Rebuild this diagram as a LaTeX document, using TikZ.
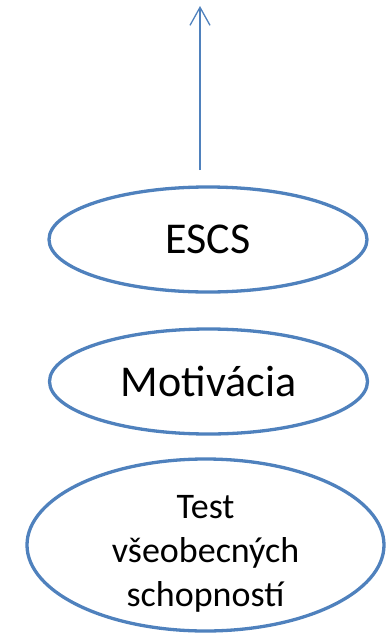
\documentclass[tikz,border=0pt]{standalone}
\usepackage{fontspec}
\setmainfont{Carlito}
\usetikzlibrary{shapes.geometric,arrows.meta}
\definecolor{ovblue}{RGB}{79,129,189}
\begin{document}
\begin{tikzpicture}[x=1pt,y=-1pt,
  oval/.style={ellipse,draw=ovblue,line width=3.3pt,inner sep=0pt,align=center,text=black},
  bigtxt/.style={font=\fontsize{44}{53}\selectfont},
  smalltxt/.style={font=\fontsize{36}{44}\selectfont,align=center,inner sep=0pt},
  conn/.style={draw=ovblue,line width=1.3pt,-{Straight Barb[length=18pt,width=20pt,line width=1.3pt]}}]
\useasboundingbox (0,0) rectangle (386,640);
\node[oval,bigtxt,minimum width=318pt,minimum height=105pt] (escs) at (208,239.5) {ESCS};
\node[oval,bigtxt,minimum width=318pt,minimum height=105pt] (motiv) at (208.5,381.5) {Motivácia};
\node[oval,minimum width=357pt,minimum height=172pt] (test) at (205.5,545) {};
\node[smalltxt] (testtxt) at ([yshift=-9pt]test.center) {Test\\všeobecných\\schopností};
\coordinate (abot) at (200,170);
\coordinate (atop) at (200,6);
\draw[conn] (abot) -- (atop);
\end{tikzpicture}
\end{document}
